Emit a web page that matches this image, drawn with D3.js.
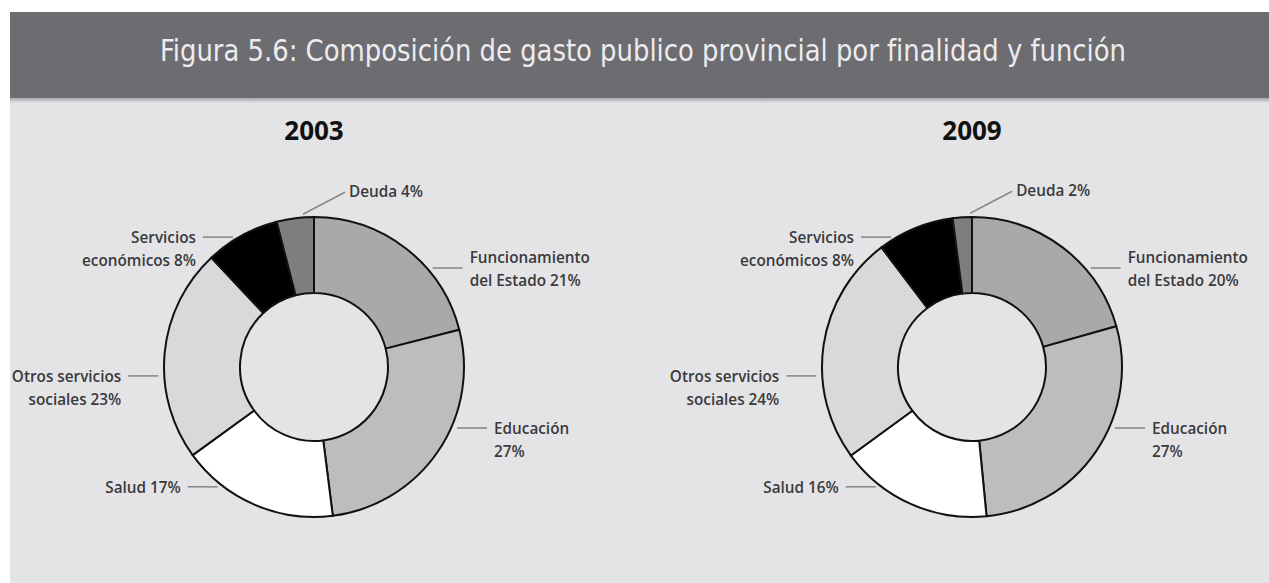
<!DOCTYPE html>
<html lang="es">
<head>
<meta charset="utf-8">
<script src="https://cdn.jsdelivr.net/npm/d3@7"></script>
<style>
  html, body { margin: 0; padding: 0; background: #ffffff; }
  svg { display: block; }
</style>
</head>
<body>
<svg id="chart" width="1269" height="583"></svg>
<script>
// ---- Data ----
const categories = [
  "Funcionamiento del Estado",
  "Educación",
  "Salud",
  "Otros servicios sociales",
  "Servicios económicos",
  "Deuda"
];
const years = ["2003", "2009"];
const values2003 = [21, 27, 17, 23, 8, 4];
const values2009 = [20, 27, 16, 24, 8, 2];
// label text split into lines; the percentage is appended to the last line
const labelLines = [
  ["Funcionamiento", "del Estado"],
  ["Educación", ""],
  ["Salud"],
  ["Otros servicios", "sociales"],
  ["Servicios", "económicos"],
  ["Deuda"]
];
const titleText = "Figura 5.6: Composición de gasto publico provincial por finalidad y función";

// ---- Layout & style ----
const W = 1269, H = 583;
const fills = ["#a9a9ab", "#bdbdbf", "#ffffff", "#d9d9db", "#000000", "#7e7e80"];
const panelColor = "#e4e4e7";
const outerR = 150, innerR = 74;
const centers = [{ x: 314, y: 367 }, { x: 972, y: 367 }];
// where each leader line meets the ring (degrees clockwise from 12 o'clock)
const leaderAngles = [48.7, 114, 217, 266.6, 330, null];
// row of the text block the leader points at (0 = first line)
const leaderRow = [0.5, 0, 0, 0, 0, 0];
const lineH = 23;

const svg = d3.select("#chart");

// panel backgrounds
svg.append("rect").attr("x", 0).attr("y", 0).attr("width", W).attr("height", H).attr("fill", "#ffffff");
svg.append("rect").attr("x", 10).attr("y", 12).attr("width", W - 10).attr("height", H - 12).attr("fill", panelColor);

// title bar with a soft shadow underneath
const defs = svg.append("defs");
const grad = defs.append("linearGradient").attr("id", "barShadow").attr("x1", 0).attr("y1", 0).attr("x2", 0).attr("y2", 1);
grad.append("stop").attr("offset", "0%").attr("stop-color", "#9a999d");
grad.append("stop").attr("offset", "100%").attr("stop-color", panelColor);
svg.append("rect").attr("x", 10).attr("y", 97).attr("width", W - 10).attr("height", 6).attr("fill", "url(#barShadow)");
svg.append("rect").attr("x", 10).attr("y", 12).attr("width", W - 10).attr("height", 86).attr("fill", "#6d6c71");

svg.append("text")
  .attr("x", 643).attr("y", 50)
  .attr("text-anchor", "middle")
  .attr("dominant-baseline", "central")
  .attr("font-family", "'DejaVu Sans', sans-serif")
  .attr("font-stretch", "condensed")
  .attr("font-size", 30)
  .attr("fill", "#ececee")
  .attr("textLength", 966)
  .attr("lengthAdjust", "spacingAndGlyphs")
  .text(titleText);

const color = d3.scaleOrdinal().domain(categories).range(fills);
const pie = d3.pie().sort(null).value(d => d.value);
const arc = d3.arc().innerRadius(innerR).outerRadius(outerR);

const labelFont = "'Open Sans', 'Noto Sans', sans-serif";

[values2003, values2009].forEach((vals, yi) => {
  const c = centers[yi];
  const g = svg.append("g").attr("transform", `translate(${c.x},${c.y})`);
  const rows = categories.map((name, i) => ({ name, value: vals[i], i }));
  const arcs = pie(rows);

  // year heading
  svg.append("text")
    .attr("x", c.x).attr("y", 130)
    .attr("text-anchor", "middle")
    .attr("dominant-baseline", "central")
    .attr("font-family", labelFont)
    .attr("font-weight", 700)
    .attr("font-size", 26)
    .attr("fill", "#111")
    .text(years[yi]);

  // hole
  g.append("circle").attr("r", innerR).attr("fill", panelColor);

  g.selectAll("path.slice")
    .data(arcs)
    .join("path")
    .attr("class", "slice")
    .attr("d", arc)
    .attr("fill", d => color(d.data.name))
    .attr("stroke", "#111")
    .attr("stroke-width", 2)
    .attr("stroke-linejoin", "round");

  // labels with leader lines
  arcs.forEach(d => {
    const i = d.data.i;
    const lines = labelLines[i].slice();
    const pct = d.data.value + "%";
    lines[lines.length - 1] = lines[lines.length - 1] ? lines[lines.length - 1] + " " + pct : pct;

    let x0, y0, x1, y1, tx, ty, anchor;
    if (leaderAngles[i] === null) {
      // small slice at the top: diagonal leader to the upper right
      const mid = (d.startAngle + d.endAngle) / 2;
      x0 = Math.sin(mid) * (outerR + 2) + 8;
      y0 = -Math.cos(mid) * (outerR + 2) - 2;
      x1 = x0 + 42; y1 = y0 - 22;
      tx = x1 + 4; ty = y1 - 1; anchor = "start";
    } else {
      const a = leaderAngles[i] * Math.PI / 180;
      const side = Math.sin(a) >= 0 ? 1 : -1;
      const dy = -Math.cos(a) * outerR;
      const ringX = Math.sqrt(outerR * outerR - dy * dy);
      x0 = side * (ringX + 6); y0 = dy;
      x1 = x0 + side * 30; y1 = dy;
      tx = x1 + side * 7;
      ty = dy - leaderRow[i] * lineH;
      anchor = side > 0 ? "start" : "end";
    }
    g.append("line")
      .attr("x1", x0).attr("y1", y0).attr("x2", x1).attr("y2", y1)
      .attr("stroke", "#8a8a8c").attr("stroke-width", 1.6);
    const t = g.append("text")
      .attr("text-anchor", anchor)
      .attr("font-family", labelFont)
      .attr("font-weight", 600)
      .attr("font-size", 15.3)
      .attr("fill", "#3a3a3c");
    lines.forEach((ln, k) => {
      t.append("tspan")
        .attr("x", tx)
        .attr("y", ty + k * lineH)
        .attr("dominant-baseline", "central")
        .text(ln);
    });
  });
});
</script>
</body>
</html>
